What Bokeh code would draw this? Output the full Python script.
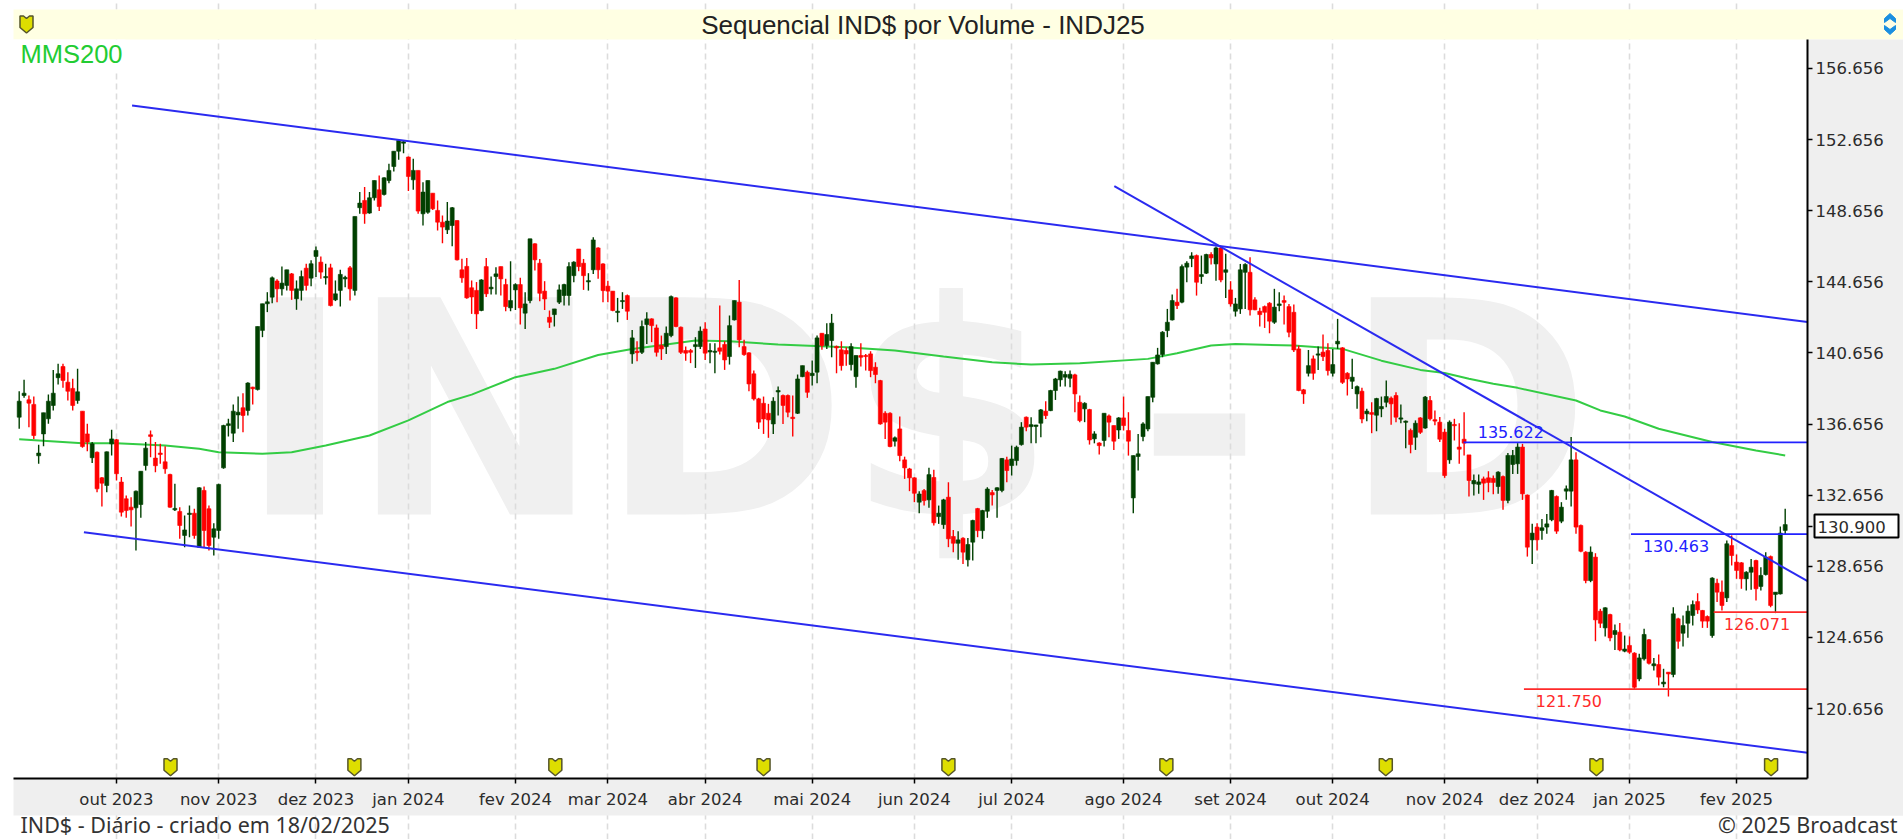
from bokeh.plotting import figure
from bokeh.models import (BoxAnnotation, Label, FixedTicker, Range1d)
from bokeh.core.properties import value
from bokeh.embed import file_html
from bokeh.resources import INLINE

# ---------- candles (one block of ten per line) ----------
high = [
138.5,139.14,138.26,138.2,135.49,137.29,138.32,139.7,140.04,140.04,
139.57,139.2,139.76,137.38,136.67,135.64,135.11,133.67,135.11,136.33,
135.82,133.67,132.64,132.54,132.92,134.0,135.64,136.29,135.64,135.54,
135.41,133.86,133.29,131.98,131.51,132.07,131.89,133.1,133.14,132.07,
131.08,133.29,136.61,136.95,137.76,138.2,138.39,139.01,138.75,142.14,
143.42,144.07,144.95,144.8,145.52,145.33,145.15,144.73,145.29,145.67,
145.86,146.64,146.08,145.67,145.67,144.73,145.33,145.0,145.54,148.33,
149.7,149.98,149.7,150.35,150.64,150.54,151.29,152.0,152.64,152.57,
151.7,151.57,150.92,150.26,150.35,149.64,149.23,148.39,149.14,148.86,
148.1,145.95,146.0,144.73,144.64,144.8,146.0,144.95,145.47,145.51,
144.82,145.81,144.57,144.88,144.07,147.07,146.83,145.94,144.69,143.04,
143.13,144.5,144.54,145.76,145.81,146.5,145.94,145.14,147.16,146.6,
145.7,144.72,144.13,143.75,144.07,143.94,141.95,141.31,142.48,142.94,
142.6,142.25,141.63,142.14,143.88,143.79,142.14,141.01,140.88,141.54,
142.14,142.38,141.2,141.2,143.32,141.31,142.76,143.6,144.76,141.39,
140.69,139.66,138.13,138.2,137.79,138.16,138.76,138.31,138.31,138.26,
139.44,139.94,139.66,140.23,141.63,141.76,142.33,142.85,141.07,141.31,
140.98,141.2,140.51,141.2,140.6,140.75,140.13,139.14,137.38,137.32,
135.95,137.08,134.82,134.19,133.66,132.88,133.0,134.19,134.08,132.07,
132.45,133.38,130.7,130.63,130.29,130.25,131.27,131.94,131.83,133.1,
132.95,133.1,134.75,134.82,135.44,135.44,136.76,137.08,137.04,136.62,
137.5,137.94,138.58,139.25,139.66,139.63,139.66,139.48,138.26,137.88,
137.51,136.25,135.63,137.26,137.19,136.57,137.04,138.2,137.32,134.88,
136.1,136.76,138.2,140.13,140.94,141.88,143.13,143.94,144.26,145.63,
145.81,146.32,146.19,146.13,146.23,146.32,146.64,146.64,146.23,144.69,
143.75,145.66,145.7,146.04,143.79,143.19,143.32,143.51,144.26,144.07,
143.88,143.41,143.38,141.07,138.63,140.82,140.51,141.01,141.69,141.2,
140.88,142.57,140.98,139.57,140.32,138.82,138.69,137.51,137.88,138.13,
138.2,139.1,138.2,138.44,137.75,136.85,136.4,136.86,137.04,138.23,
138.23,137.42,137.05,136.39,136.86,136.95,136.7,137.32,134.92,133.82,
133.82,133.7,134.0,133.76,134.0,133.76,135.02,135.2,135.58,135.54,
132.69,131.04,131.08,131.32,131.6,132.95,132.64,132.26,133.2,135.92,
135.07,131.0,129.5,129.77,129.39,126.26,126.35,125.98,125.38,125.46,
124.76,124.71,123.82,123.73,125.14,124.57,123.5,123.69,122.89,122.7,
126.35,125.76,125.89,126.45,126.73,127.14,126.2,125.89,128.04,127.95,
127.86,130.1,130.39,129.32,128.89,128.38,129.07,129.02,128.6,129.45,129.26,127.2,130.89,131.89,
]
body_top = [
137.94,138.39,138.02,137.76,135.02,137.29,137.94,138.39,139.48,139.89,
139.01,138.66,138.47,137.38,136.1,135.54,135.07,133.63,135.09,135.82,
135.77,133.39,132.45,131.98,132.88,134.0,135.3,136.05,134.74,135.02,
134.53,133.82,131.91,131.74,130.7,131.64,131.64,133.07,132.92,131.89,
130.76,133.26,136.57,136.67,137.38,137.32,137.57,138.96,138.73,142.14,
143.42,143.53,144.88,144.7,144.58,145.33,145.1,144.26,144.95,145.42,
145.67,146.42,145.76,144.95,145.44,143.98,145.07,144.9,145.44,148.33,
149.08,149.23,149.38,150.35,149.83,150.5,150.92,152.0,152.6,152.53,
151.67,150.92,150.92,149.7,150.35,149.64,148.67,148.01,148.07,148.82,
148.1,145.33,145.52,144.32,144.17,144.76,145.51,144.35,145.1,145.51,
144.5,143.6,144.5,144.5,143.41,147.07,146.79,145.7,144.13,142.66,
143.13,144.2,144.5,145.51,145.76,146.5,145.7,144.72,147.01,146.56,
145.66,144.41,144.13,143.0,143.6,143.88,141.5,140.75,142.14,142.57,
142.57,142.06,141.07,141.76,143.82,143.75,142.1,140.79,140.79,141.12,
141.88,142.0,140.79,140.75,140.94,141.13,142.19,143.6,143.51,141.01,
140.66,139.48,138.07,137.82,137.26,137.94,138.54,138.26,138.26,137.04,
139.19,139.94,139.57,139.51,141.5,141.76,141.69,142.33,141.01,140.83,
140.79,141.01,140.51,140.51,140.51,140.6,139.85,139.1,137.26,137.26,
135.88,136.38,134.64,134.13,133.63,132.72,132.91,133.81,133.65,131.64,
132.39,132.54,130.33,130.14,130.23,129.88,131.23,131.9,131.79,133.0,
132.8,133.07,134.72,134.64,134.69,135.35,136.48,137.04,136.62,136.6,
137.45,137.38,138.54,139.19,139.63,139.44,139.45,139.42,137.88,137.82,
137.47,136.1,135.59,137.26,137.11,136.57,137.0,137.0,136.29,134.88,
134.98,136.66,138.2,140.13,140.54,141.82,142.38,143.6,143.51,145.51,
145.7,146.11,146.13,145.06,146.19,146.19,146.56,146.56,145.33,144.2,
143.41,145.33,145.63,145.19,143.64,143.0,143.26,143.45,143.23,143.41,
143.6,143.26,142.94,140.88,138.58,139.94,140.32,140.6,140.7,140.79,
140.0,141.31,140.94,139.51,139.29,138.76,138.5,137.38,137.3,138.09,
137.64,138.2,138.11,138.26,137.0,136.82,136.3,136.7,137.0,138.17,
137.98,136.9,136.76,136.2,136.76,136.63,135.36,135.8,134.92,133.48,
133.4,133.57,133.63,133.6,133.95,133.7,134.89,134.89,135.36,135.36,
132.66,130.52,130.86,130.82,131.04,132.92,132.58,131.98,133.01,134.64,
134.64,130.95,129.45,129.45,129.17,126.13,126.32,125.94,125.04,124.95,
124.0,124.2,123.77,123.5,124.82,124.52,123.17,123.13,122.14,122.7,
125.98,125.7,125.32,126.13,126.5,126.67,126.17,125.83,127.99,127.7,
127.2,129.92,129.82,128.89,128.85,128.32,128.6,128.98,128.14,129.17,129.2,127.2,130.52,131.0,
]
body_bottom = [
137.04,138.26,137.83,136.01,134.87,136.1,136.95,137.7,139.26,139.11,
138.5,137.7,137.98,135.39,135.64,134.76,133.01,133.33,133.2,135.54,
133.86,131.7,131.79,131.83,131.94,132.13,134.32,135.96,134.31,134.94,
134.14,131.98,131.83,130.95,130.39,131.57,130.39,129.73,130.67,129.82,
130.29,130.67,134.19,136.57,136.14,137.17,137.14,137.42,138.64,138.6,
141.92,143.42,143.79,144.26,144.26,144.45,144.17,143.7,144.17,144.45,
144.86,146.08,145.2,144.88,143.32,143.64,144.17,144.82,144.26,144.17,
148.82,148.48,148.52,149.38,148.89,149.57,150.35,151.14,152.0,152.45,
150.58,150.39,148.63,148.48,148.57,148.76,148.01,147.73,147.58,147.82,
145.89,144.88,143.75,143.8,142.85,143.04,143.98,144.26,144.95,144.82,
143.26,143.19,144.2,143.19,142.89,143.6,145.89,144.01,143.69,142.38,
142.81,143.51,143.88,143.88,145.0,145.51,145.0,144.65,145.33,145.33,
144.16,144.13,143.04,142.93,143.54,143.0,140.6,140.67,140.69,142.25,
142.19,140.69,140.88,141.01,141.63,142.14,140.69,140.64,140.69,141.01,
141.01,140.64,140.71,140.69,140.75,140.26,140.45,142.51,141.39,140.56,
138.91,138.07,136.76,136.94,136.89,136.66,138.46,137.7,137.32,136.96,
137.26,139.32,138.44,139.38,139.57,141.07,141.07,141.35,140.94,139.94,
140.6,140.0,139.32,140.41,140.45,139.66,139.44,136.66,136.76,135.39,
135.69,134.88,134.19,133.63,132.76,132.26,132.35,132.39,131.1,131.45,
131.0,130.2,129.95,129.95,129.45,129.02,130.01,130.66,130.66,131.75,
132.67,132.92,132.92,134.04,134.32,134.6,135.5,136.48,136.51,136.52,
136.7,137.13,137.41,138.54,139.14,139.29,139.23,138.35,136.85,137.51,
135.76,135.82,135.44,135.73,136.76,135.69,136.32,136.57,135.69,132.5,
134.83,135.95,136.38,138.16,140.04,140.56,141.91,142.51,143.32,143.51,
145.48,145.96,144.63,144.95,145.14,146.0,145.66,144.76,145.19,143.41,
143.0,143.13,145.19,143.08,143.08,142.81,142.94,142.44,142.38,143.32,
143.5,141.82,140.82,138.54,138.35,139.51,139.51,140.53,140.45,139.66,
139.51,141.16,139.0,139.19,139.06,138.35,136.94,137.23,137.2,137.15,
137.51,137.88,137.79,137.04,136.93,136.75,135.5,135.91,136.19,136.43,
136.95,136.82,135.8,133.76,134.64,136.56,135.24,135.58,133.48,133.29,
133.26,133.33,133.37,133.37,133.14,132.36,132.36,134.38,134.42,132.73,
129.73,130.14,130.14,130.67,130.86,131.27,130.63,131.19,132.88,132.88,
130.86,129.5,127.85,127.85,125.64,125.45,125.19,124.63,124.82,123.95,
123.88,123.82,121.85,122.32,123.45,123.2,123.06,122.42,122.04,122.6,
122.57,124.44,124.89,125.45,125.89,126.2,125.57,125.57,124.76,127.2,
126.45,126.88,129.26,128.42,127.95,127.95,128.32,127.39,127.52,128.19,126.45,127.07,127.1,130.67,
]
low = [
136.39,138.13,136.48,135.82,134.42,135.41,136.67,137.42,138.88,138.69,
137.98,137.42,137.79,135.32,135.13,134.46,132.82,132.02,132.82,134.89,
133.48,131.46,131.38,130.89,129.54,131.38,134.04,134.79,133.95,134.42,
133.86,131.94,131.76,130.2,129.73,130.29,130.2,129.69,129.73,129.54,
129.26,130.2,134.14,135.96,135.64,136.39,136.2,137.14,137.76,138.54,
141.54,142.95,143.45,143.51,143.89,144.17,143.64,143.08,143.6,144.17,
144.4,144.92,144.82,144.5,143.27,143.57,143.27,144.35,143.6,143.89,
148.48,147.92,148.48,149.23,148.63,149.51,150.2,150.86,151.52,151.89,
149.76,149.83,148.48,147.82,148.48,148.7,147.54,146.83,147.35,146.65,
145.85,144.6,143.7,142.85,142.0,143.0,143.8,143.94,143.94,143.88,
143.0,143.0,143.07,142.25,142.0,143.45,145.29,143.56,143.07,142.06,
142.14,143.41,143.32,143.32,144.63,145.25,144.2,144.16,145.1,144.82,
143.51,143.51,143.0,142.38,143.13,142.51,140.04,140.19,140.6,141.16,
141.26,140.45,140.26,140.6,141.54,142.1,140.6,140.22,140.08,139.81,
140.88,140.26,140.08,139.51,140.56,139.7,140.0,142.48,140.98,140.5,
138.5,137.98,136.38,136.1,135.88,136.1,137.13,136.66,137.04,135.95,
137.22,139.29,138.13,138.82,138.95,140.83,140.88,140.41,139.51,139.66,
139.94,139.66,138.69,139.89,139.66,139.29,138.95,136.62,135.82,135.35,
135.39,134.56,133.57,132.88,132.26,131.64,132.07,131.94,130.95,131.04,
130.76,129.73,129.45,129.02,128.79,128.64,128.98,130.29,130.2,131.38,
132.07,131.38,132.82,133.38,133.76,134.32,135.44,136.25,135.57,135.57,
135.91,136.94,137.38,138.01,138.76,138.76,138.73,137.32,136.76,136.76,
135.5,135.57,134.94,135.39,135.91,135.2,135.82,136.29,134.88,131.64,
134.04,135.69,136.25,137.88,140.0,140.41,141.54,142.48,143.13,143.45,
144.63,145.48,143.88,144.54,145.1,145.63,144.72,144.63,143.75,143.26,
142.7,142.85,143.13,142.76,143.05,142.14,142.06,141.76,142.29,143.0,
142.25,141.54,140.7,138.5,137.79,139.33,139.14,139.7,140.2,139.38,
139.33,140.88,138.91,138.26,138.63,137.51,136.7,136.81,136.14,136.25,
137.04,137.6,136.62,136.76,136.7,135.3,135.01,135.2,136.1,136.39,
136.86,136.58,135.64,133.63,134.42,135.73,134.42,134.89,132.58,132.64,
132.73,132.39,132.82,132.7,132.73,131.83,132.2,133.85,133.85,132.39,
129.2,128.79,129.54,130.14,130.48,131.19,130.48,131.08,132.39,132.02,
130.48,129.45,127.7,127.76,124.44,125.19,124.7,124.44,123.95,123.88,
123.82,123.73,121.76,122.19,123.36,123.13,122.79,121.95,121.85,121.33,
122.42,124.01,124.14,124.63,125.32,125.98,125.19,125.19,124.63,126.64,
126.17,126.64,128.7,127.95,127.39,127.29,127.33,126.73,127.29,128.14,126.35,126.02,127.07,130.44,
]
direction = (
"GGRRGGGGGR" "RRGRRGRRGG" "RRRRGGGRRR" "RRGRGGRGRR" "GGGGGGRGRG"
"GGGRGGRGGR" "GGRGRGGGRG" "GRGGRGGGGG" "RGRGGRRRGG" "RRRRRGRGGR"
"RGGRGGRRRR" "GGGGGRRGGR" "RRRGGRGRGG" "RRRGGRRRRG" "GRGGRRGGRR"
"RRRRRGGRRR" "GGRGGRGGRR" "RGGRRRRRRR" "GRRRRGRGRG" "GRRGRGGRGG"
"RGGRGGGRGG" "GRGGGGGRRG" "RGRGRRGRRG" "GGGGGGGGRG" "GGRGGRGRGR"
"GGGRRRRRGG" "RRRRRGRGRR" "GGRRGGRGRG" "GGRRGGRGRG" "RRRRGRRRRG"
"GRRRGRGGGR" "RGRGGGRGGG" "RRRGRRGRGR" "GRRGGRGRGR" "GRGGGRRRGR"
"RGRRRGGRGGRGGG"
)

# ---------- moving average, read at these candle positions ----------
mms_pos = [0,13,20,30,37,41,50,56,63,72,80,88,93,102,110,119,126,133,139,146,156,170,180,190,
           200,208,218,232,238,245,250,262,272,280,288,293,298,303,308,320,325,330,337,348,357,363]
mms200 = [135.8,135.58,135.58,135.45,135.26,135.07,134.98,135.07,135.45,136.01,136.86,137.89,138.31,
          139.29,139.76,140.54,140.88,141.13,141.35,141.31,141.13,140.98,140.79,140.45,
          140.13,140.0,140.08,140.32,140.64,141.07,141.16,141.07,140.88,140.22,139.7,139.52,139.2,
          138.92,138.69,137.98,137.42,137.08,136.39,135.64,135.17,134.89]

# ---------- trend lines and levels ----------
trend_x0 = [23.2, 13.3, 225.1]
trend_y0 = [154.57, 130.57, 150.03]
trend_x1 = [367.6, 367.6, 367.6]
trend_y1 = [142.39, 118.17, 127.82]

levels = [135.622, 130.463, 126.071, 121.750]
level_start = [296.9, 331.3, 348.3, 309.3]
level_text = ["135.622", "130.463", "126.071", "121.750"]
level_colour = ["#2222ff", "#2222ff", "#ff2a2a", "#ff2a2a"]

# ---------- axes ----------
month_pos = [20,41,61,80,102,121,141,163,184,204,227,249,270,293,312,331,353]
month_lab = ["out 2023","nov 2023","dez 2023","jan 2024","fev 2024","mar 2024","abr 2024","mai 2024",
             "jun 2024","jul 2024","ago 2024","set 2024","out 2024","nov 2024","dez 2024","jan 2025","fev 2025"]
price_ticks = [120.656,124.656,128.656,132.656,136.656,140.656,144.656,148.656,152.656,156.656]
last_price = 130.900
event_pos = [31.1,68.9,110.2,153,191,235.8,280.9,324.2,360.1]
event_level = [117.35]*9

n = len(high)
xs = list(range(n))
GREEN, RED = "#004000", "#ff0000"
colors = [GREEN if c == "G" else RED for c in direction]

PX_X, PX_Y = 4.865, 17.78          # pixels per candle, pixels per price unit
XL, XR = -1.17, 367.6              # plot edges, in candles
YB, YT = 116.719, 158.283          # plot edges, in price

p = figure(width=1903, height=839, output_backend="svg", toolbar_location=None,
           x_range=Range1d(-18.7/PX_X, (1903-18.7)/PX_X),
           y_range=Range1d(120.656+(708-839)/PX_Y, 120.656+708/PX_Y),
           y_axis_location="right", min_border_left=0, min_border_right=0,
           min_border_top=0, min_border_bottom=0, outline_line_color=None,
           border_fill_color="white", background_fill_color="white")

# bands around the plot
for l, r, t, b, c in [(13,1903,9,39,"#ffffe3"), (1807,1903,39,815,"#efefef"), (13,1903,778,815,"#efefef")]:
    p.add_layout(BoxAnnotation(left=l, right=r, top=t, bottom=b, left_units="canvas", right_units="canvas",
                               top_units="canvas", bottom_units="canvas", fill_color=c, fill_alpha=1,
                               line_color=None, level="underlay"))

# grid and axes
p.ygrid.visible = False
p.xgrid.grid_line_color = "#dcdcdc"
p.xgrid.grid_line_width = 1.6
p.xgrid.grid_line_dash = "6 4"
p.xgrid.level = "underlay"
p.xgrid.bounds = (YB, YT)
p.xaxis.ticker = FixedTicker(ticks=month_pos)
p.xaxis.major_label_overrides = dict(zip(month_pos, month_lab))
p.yaxis.ticker = FixedTicker(ticks=price_ticks + [last_price])
p.yaxis.major_label_overrides = {**{v: f"{v:.3f}" for v in price_ticks}, last_price: ""}
p.xaxis.fixed_location = YB
p.yaxis.fixed_location = XR
p.xaxis.bounds = (XL, XR)
p.yaxis.bounds = (YB, YT)
for ax in (p.xaxis[0], p.yaxis[0]):
    ax.axis_line_color = "black"
    ax.axis_line_width = 2
    ax.major_tick_line_color = "black"
    ax.major_tick_line_width = 1.5
    ax.major_tick_in = 0
    ax.major_tick_out = 5
    ax.minor_tick_line_color = None
    ax.major_label_text_font = "DejaVu Sans"
    ax.major_label_text_font_size = "16.5px"
    ax.major_label_text_color = "#2b2b2b"
p.xaxis.major_label_standoff = 7
p.yaxis.major_label_standoff = 3

# watermark
p.text([45.3, 229.9, 272.2], [137.39]*3, text=["IND$", "-", "D"], text_font=value("DejaVu Sans"),
       text_font_style="bold", text_font_size="298px", text_color="#f0f0f0",
       text_baseline="middle", level="underlay")

# moving average
p.line(mms_pos, mms200, line_color="#33cc44", line_width=2)

# candles
p.segment(xs, low, xs, high, line_color=colors, line_width=1.4)
p.vbar(xs, width=0.82, top=body_top, bottom=body_bottom, fill_color=colors, line_color=colors, line_width=0.6)

# trend lines and levels
p.segment(trend_x0, trend_y0, trend_x1, trend_y1, line_color="#2a2af0", line_width=2)
p.segment(level_start, levels, [XR]*4, levels, line_color=level_colour, line_width=1.8)
for s, v, t, c, dx, dy in zip(level_start, levels, level_text, level_colour, [9.7,9.25,8.9,9.25], [10,-12,-12,-12]):
    p.add_layout(Label(x=s+dx, y=v, y_offset=dy, text=t, text_color=c, text_font="DejaVu Sans",
                       text_font_size="16px", text_align="center", text_baseline="middle"))

# shields: event markers along the bottom and one in the top band
SHIELD_X = [-6.5, -3, 0, 3, 6.5, 6.5, 0, -6.5]
SHIELD_Y = [8.5, 8.5, 6, 8.5, 8.5, -3, -8.5, -3]
shield_x = [[x + dx/PX_X for dx in SHIELD_X] for x in event_pos + [(26-18.7)/PX_X]]
shield_y = [[y + dy/PX_Y for dy in SHIELD_Y] for y in event_level + [120.656+(708-24)/PX_Y]]
p.patches(shield_x, shield_y, fill_color="#dede00", line_color="#55552a", line_width=1.5)

# arrows in the top band
ARROW_X = [1884, 1889.5, 1895, 1895, 1889.5, 1884]
for ys_ in ([18,13,18,22,18,22], [29,34,29,25,29,25]):
    p.patch([(x-18.7)/PX_X for x in ARROW_X], [120.656+(708-y)/PX_Y for y in ys_],
            fill_color="#1a8fe0", line_color="#1a8fe0", line_width=1)

# texts outside the plot
p.add_layout(BoxAnnotation(left=13, right=125, top=39, bottom=72, left_units="canvas", right_units="canvas",
                           top_units="canvas", bottom_units="canvas", fill_color="white", fill_alpha=1,
                           line_color=None, level="guide"))
p.add_layout(Label(x=922.5, y=24, x_units="canvas", y_units="canvas", text="Sequencial IND$ por Volume - INDJ25",
                   text_font="Liberation Sans", text_font_size="26px", text_color="#222222",
                   text_align="center", text_baseline="middle"))
p.add_layout(Label(x=20, y=53, x_units="canvas", y_units="canvas", text="MMS200", text_font="Liberation Sans",
                   text_font_size="25.5px", text_color="#22cc33", text_baseline="middle"))
p.add_layout(Label(x=20, y=824, x_units="canvas", y_units="canvas", text="IND$ - Diário - criado em 18/02/2025",
                   text_font="Noto Sans", text_font_size="21.5px", text_color="#333333", text_baseline="middle"))
p.add_layout(Label(x=1897, y=824, x_units="canvas", y_units="canvas", text="© 2025 Broadcast",
                   text_font="Noto Sans", text_font_size="21.5px", text_color="#333333", text_align="right",
                   text_baseline="middle"))
p.add_layout(BoxAnnotation(left=1814, right=1898, top=514, bottom=537, left_units="canvas", right_units="canvas",
                           top_units="canvas", bottom_units="canvas", fill_color="white", fill_alpha=1,
                           line_color="black", line_alpha=1, line_width=2))
p.add_layout(Label(x=1817, y=526, x_units="canvas", y_units="canvas", text=f"{last_price:.3f}", text_font="DejaVu Sans",
                   text_font_size="16.5px", text_color="#2b2b2b", text_baseline="middle"))

open("out.html", "w").write(file_html(p, INLINE))
